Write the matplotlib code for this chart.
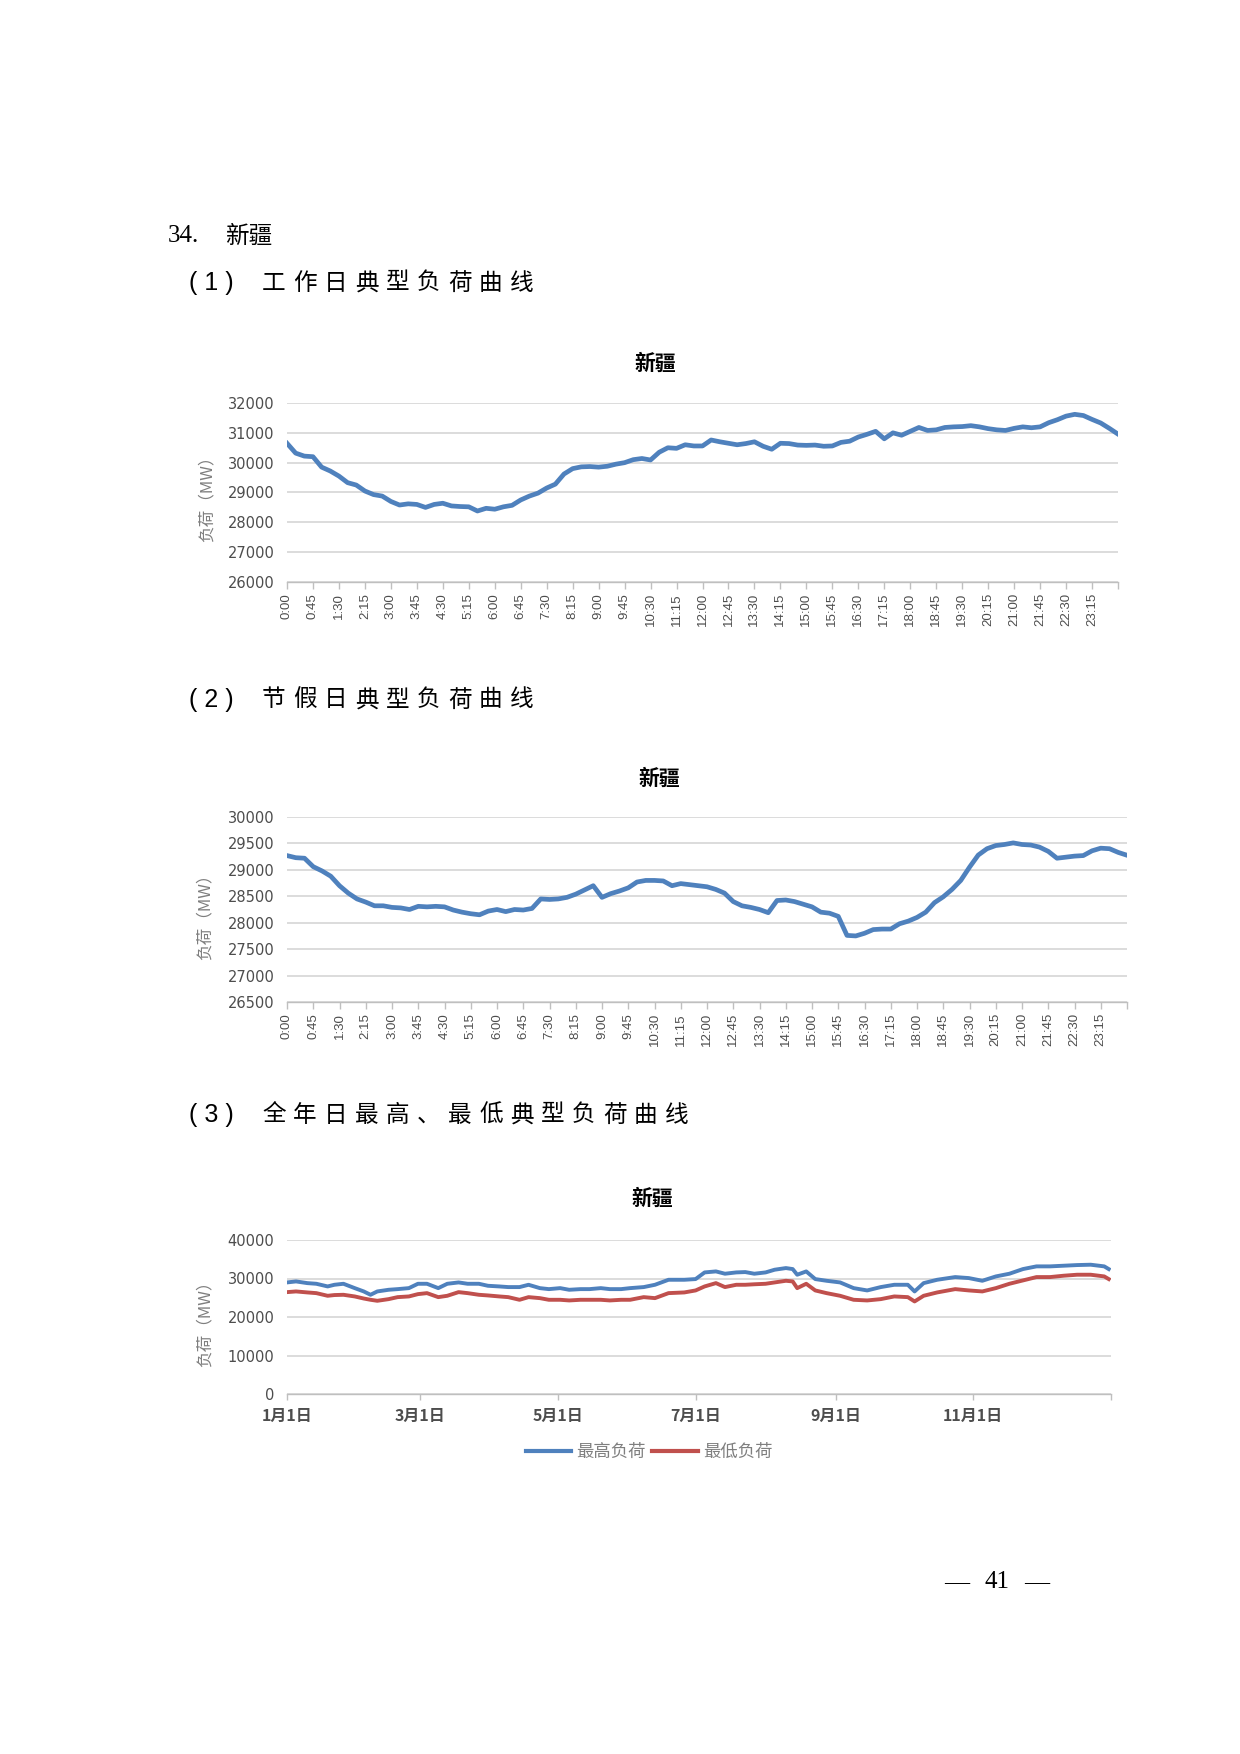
"""
新疆 typical load curves page (workday, holiday, yearly max/min)
"""
import matplotlib
matplotlib.use("Agg")
import matplotlib.pyplot as plt
import matplotlib.dates as mdates
from matplotlib.ticker import FixedLocator, FuncFormatter
import numpy as np

W, H = 1240, 1754

# ---- data -------------------------------------------------------------
# 15-minute samples (minutes from midnight), last point at 23:59
minutes = np.append(np.arange(0, 1440, 15), 1439)

workday_load = [
    30650, 30320, 30220, 30200, 29850, 29720, 29550, 29330, 29250, 29050,
    28930, 28880, 28700, 28580, 28620, 28600, 28500, 28600, 28640, 28550,
    28530, 28520, 28380, 28470, 28440, 28520, 28570, 28750, 28880, 28980,
    29150, 29280, 29620, 29800, 29860, 29870, 29850, 29880, 29950, 30000,
    30100, 30140, 30090, 30350, 30500, 30480, 30600, 30560, 30560, 30760,
    30700, 30650, 30600, 30640, 30700, 30550, 30450, 30650, 30640, 30590,
    30580, 30590, 30550, 30560, 30680, 30720, 30860, 30950, 31050, 30800,
    31000, 30920, 31050, 31180, 31080, 31100, 31180, 31200, 31210, 31240,
    31200, 31140, 31100, 31080, 31150, 31200, 31170, 31200, 31340, 31440,
    31560, 31620, 31580, 31450, 31330, 31150, 30970,
]

holiday_load = [
    29270, 29230, 29220, 29060, 28980, 28880, 28700, 28560, 28450, 28390,
    28320, 28320, 28290, 28280, 28250, 28310, 28300, 28310, 28300, 28240,
    28200, 28170, 28150, 28220, 28250, 28210, 28250, 28240, 28270, 28450,
    28440, 28450, 28480, 28540, 28620, 28700, 28480, 28550, 28600, 28660,
    28770, 28800, 28800, 28790, 28700, 28740, 28720, 28700, 28680, 28630,
    28560, 28400, 28320, 28290, 28250, 28190, 28420, 28430, 28400, 28350,
    28300, 28200, 28180, 28120, 27760, 27750, 27800, 27870, 27880, 27880,
    27980, 28030, 28100, 28200, 28380, 28490, 28630, 28800, 29050, 29280,
    29400, 29460, 29480, 29510, 29480, 29470, 29430, 29350, 29220, 29240,
    29260, 29270, 29360, 29410, 29400, 29330, 29280,
]

# yearly curves: day of year (0 = Jan 1)
year_days = [
    0, 4, 9, 13, 18, 21, 25, 30, 34, 37, 40, 45, 49, 54, 58, 62, 67, 71, 76,
    80, 85, 89, 94, 98, 103, 107, 112, 116, 121, 125, 130, 134, 139, 143, 148,
    152, 158, 163, 169, 176, 181, 185, 190, 194, 199, 203, 207, 212, 216, 221,
    224, 226, 230, 234, 239, 245, 251, 257, 263, 269, 275, 278, 282, 288, 296,
    302, 308, 314, 320, 326, 332, 338, 344, 350, 356, 362, 364,
]
daily_max = [
    28980, 29240, 28800, 28630, 27940, 28370, 28630, 27500, 26640, 25770,
    26640, 27070, 27240, 27500, 28630, 28630, 27500, 28630, 28980, 28630,
    28630, 28110, 27940, 27770, 27770, 28370, 27500, 27240, 27500, 27070,
    27240, 27240, 27500, 27240, 27240, 27500, 27770, 28370, 29670, 29670,
    29850, 31580, 31840, 31240, 31580, 31670, 31240, 31580, 32280, 32710,
    32450, 30980, 31840, 29850, 29410, 28980, 27500, 26900, 27770, 28370,
    28370, 26640, 28800, 29670, 30370, 30110, 29410, 30540, 31240, 32450,
    33150, 33150, 33320, 33490, 33580, 33150, 32450,
]
daily_min = [
    26460, 26640, 26380, 26200, 25510, 25700, 25770, 25340, 24800, 24470,
    24210, 24640, 25160, 25340, 25940, 26200, 25160, 25510, 26460, 26200,
    25770, 25600, 25340, 25160, 24470, 25160, 24900, 24470, 24470, 24300,
    24470, 24470, 24470, 24300, 24470, 24470, 25160, 24900, 26200, 26380,
    26900, 27940, 28800, 27770, 28370, 28370, 28500, 28630, 28980, 29410,
    29240, 27500, 28630, 26900, 26200, 25510, 24470, 24300, 24640, 25340,
    25160, 24040, 25510, 26380, 27240, 26900, 26640, 27500, 28630, 29500,
    30370, 30370, 30720, 30980, 30980, 30540, 29850,
]

BLUE = "#4F81BD"
RED = "#C0504D"
GRID = "#D9D9D9"
AXIS = "#BFBFBF"
TICK = "#4D4D4D"
CJK = ["Noto Sans CJK SC", "DejaVu Sans"]


def fx(x):
    return x / W


def fy(y):
    return 1 - y / H


def spaced(fig, x0, y, chars, pitch, **kw):
    """Draw CJK characters with the wide letter spacing of the document."""
    for i, c in enumerate(chars):
        fig.text(fx(x0 + i * pitch), fy(y), c, ha="left", va="center", **kw)


def style_axes(ax, yticks):
    for s in ("left", "top", "right"):
        ax.spines[s].set_visible(False)
    ax.spines["bottom"].set_color(AXIS)
    ax.spines["bottom"].set_linewidth(1.0)
    ax.set_ylim(yticks[0], yticks[-1])
    ax.set_yticks(yticks)
    ax.yaxis.grid(True, color=GRID, linewidth=1.3)
    ax.set_axisbelow(True)
    ax.tick_params(axis="y", length=0, pad=9, labelsize=10.5, labelcolor=TICK)
    ax.tick_params(axis="x", color=AXIS, length=5, width=1.0)


def time_axis(ax):
    ax.set_xlim(0, 1440)
    ax.xaxis.set_major_locator(FixedLocator(np.arange(0, 1440, 45)))
    ax.xaxis.set_minor_locator(FixedLocator([1440]))
    ax.xaxis.set_major_formatter(
        FuncFormatter(lambda v, p: f"{int(v) // 60}:{int(v) % 60:02d}"))
    ax.tick_params(axis="x", which="both", color=AXIS, length=5, width=1.0)
    for lab in ax.get_xticklabels():
        lab.set_rotation(90)
        lab.set_fontsize(9.5)
        lab.set_color(TICK)
        lab.set_family("Liberation Sans")
    ax.tick_params(axis="x", pad=3)


fig = plt.figure(figsize=(W / 100, H / 100), dpi=100)
fig.patch.set_facecolor("white")

# ---- page text ------------------------------------------------------------
fig.text(fx(168), fy(236), "34.", fontsize=18, family="Liberation Serif",
         ha="left", va="center")
fig.text(fx(225), fy(236), "新疆", fontsize=17, family=CJK, ha="left", va="center")

heads = [(283, "1", "工作日典型负荷曲线"),
         (700, "2", "节假日典型负荷曲线"),
         (1115, "3", "全年日最高、最低典型负荷曲线")]
for y, num, words in heads:
    fig.text(fx(189), fy(y), f"( {num} )", fontsize=18, family="Liberation Sans",
             ha="left", va="center")
    spaced(fig, 262, y, words, 31, fontsize=17, family=CJK)

# page number with its wide spacing
for x, s in [(957, "—"), (997, "41"), (1037, "—")]:
    fig.text(fx(x), fy(1582), s, fontsize=18, family="Liberation Serif",
             ha="center", va="center")

# ---- chart 1: workday ----------------------------------------------------
ax1 = fig.add_axes([fx(287), fy(582), (1118 - 287) / W, (582 - 403) / H])
ax1.plot(minutes, workday_load, color=BLUE, linewidth=3.4, solid_joinstyle="round")
style_axes(ax1, np.arange(26000, 32001, 1000))
time_axis(ax1)
fig.text(fx(655), fy(363), "新疆", fontsize=15, fontweight="bold", family=CJK,
         ha="center", va="center")
fig.text(fx(207), fy(495), "负荷（MW）", fontsize=12, color="#7F7F7F", family=CJK,
         rotation=90, ha="center", va="center")

# ---- chart 2: holiday ----------------------------------------------------
ax2 = fig.add_axes([fx(287), fy(1002), (1127 - 287) / W, (1002 - 817) / H])
ax2.plot(minutes, holiday_load, color=BLUE, linewidth=3.4, solid_joinstyle="round")
style_axes(ax2, np.arange(26500, 30001, 500))
time_axis(ax2)
fig.text(fx(659), fy(778), "新疆", fontsize=15, fontweight="bold", family=CJK,
         ha="center", va="center")
fig.text(fx(205), fy(913), "负荷（MW）", fontsize=12, color="#7F7F7F", family=CJK,
         rotation=90, ha="center", va="center")

# ---- chart 3: yearly max / min -------------------------------------------
dates = np.datetime64("2019-01-01") + np.array(year_days).astype("timedelta64[D]")
ax3 = fig.add_axes([fx(287), fy(1394), (1111 - 287) / W, (1394 - 1240) / H])
ax3.plot(dates, daily_max, color=BLUE, linewidth=2.8, label="最高负荷")
ax3.plot(dates, daily_min, color=RED, linewidth=2.8, label="最低负荷")
style_axes(ax3, np.arange(0, 40001, 10000))
ax3.set_xlim(np.datetime64("2019-01-01"), np.datetime64("2020-01-01"))
ax3.xaxis.set_major_locator(mdates.MonthLocator(bymonth=[1, 3, 5, 7, 9, 11]))
ax3.xaxis.set_major_formatter(FuncFormatter(
    lambda v, p: "" if mdates.num2date(v).year > 2019
    else f"{mdates.num2date(v).month}月{mdates.num2date(v).day}日"))
ax3.tick_params(axis="x", length=4, pad=6)
for lab in ax3.get_xticklabels():
    lab.set_family(CJK)
    lab.set_fontsize(11.5)
    lab.set_fontweight("bold")
    lab.set_color(TICK)
fig.text(fx(652), fy(1198), "新疆", fontsize=15, fontweight="bold", family=CJK,
         ha="center", va="center")
fig.text(fx(205), fy(1320), "负荷（MW）", fontsize=12, color="#7F7F7F", family=CJK,
         rotation=90, ha="center", va="center")
leg = ax3.legend(loc="center", bbox_to_anchor=(fx(649), fy(1452)),
                 bbox_transform=fig.transFigure, ncol=2, frameon=False,
                 handlelength=2.6, handletextpad=0.3, columnspacing=0.4,
                 prop={"family": CJK, "size": 12.5})
for t in leg.get_texts():
    t.set_color("#7F7F7F")
for line in leg.get_lines():
    line.set_linewidth(3.0)

fig.savefig("out.png", dpi=100)
